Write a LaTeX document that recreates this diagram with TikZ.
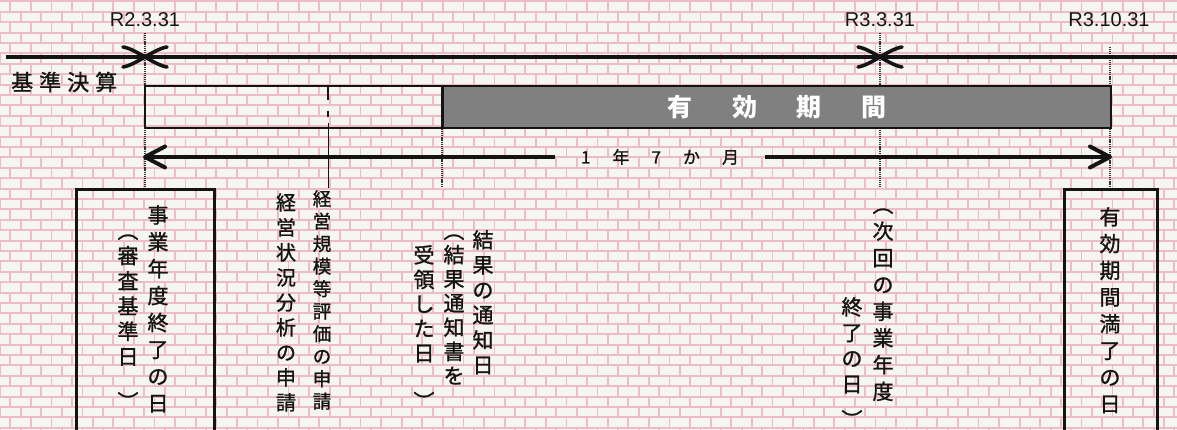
\documentclass[tikz,border=0pt]{standalone}
\usepackage{fontspec}
\setmainfont{Liberation Sans}
\newfontfamily\jp[FakeBold=1.2]{Noto Sans CJK JP}
\newfontfamily\jpb{Noto Sans CJK JP}
\usetikzlibrary{arrows.meta}
\definecolor{mortar}{RGB}{238,188,198}
\definecolor{brickc}{RGB}{245,246,241}
\definecolor{barfill}{RGB}{128,128,128}
\definecolor{ink}{RGB}{20,20,20}
\newcommand\vfs[2]{\jp\fontsize{#1pt}{#2pt}\selectfont}
\newcommand\lowp[1]{\raisebox{-#1pt}{︶}}
\begin{document}
\begin{tikzpicture}[x=1pt,y=-1pt,
  vcol/.style={align=center, inner sep=0pt, anchor=north, text=ink},
  dotline/.style={line width=1.3pt, dash pattern=on 1.2pt off 0.9pt, black!80},
  mainline/.style={line width=4pt, ink},
  xmark/.style={line width=3.6pt, ink, line cap=round},
  datelbl/.style={font=\fontsize{20pt}{20pt}\selectfont, text=ink, inner sep=0pt},
  frame/.style={draw=ink, line width=3pt, inner sep=0pt, anchor=north west},
  barbox/.style={draw=ink, line width=2pt, inner sep=0pt, minimum height=42pt},
  durline/.style={line width=4pt, ink, -{Straight Barb[length=20pt,width=21pt,round]}}
]
\useasboundingbox (0,0) rectangle (1177,430);
% brick background
\fill[brickc] (0,0) rectangle (1177,430);
\begin{scope}
\clip (0,0) rectangle (1177,430);
\draw[mortar, line width=2pt] \foreach \k in {0,...,41} { (0,{1.4+\k*10.4}) -- (1177,{1.4+\k*10.4}) };
\draw[mortar, line width=1.8pt] \foreach \r in {0,...,42} { \foreach \c in {0,...,58} { ({\c*20.6+mod(\r,2)*10.3},{-9+\r*10.4}) -- ++(0,10.4) } };
\end{scope}

% date labels
\node[datelbl] (d0) at (145,20) {R2.3.31};
\node[datelbl] (d1) at (880,20) {R3.3.31};
\node[datelbl] (d2) at (1109,20) {R3.10.31};

% vertical dotted guide lines
\coordinate (v0t) at (145,33);  \coordinate (v0b) at (145,187);
\coordinate (v1t) at (880,33);  \coordinate (v1b) at (880,187);
\coordinate (v2t) at (1110,47); \coordinate (v2b) at (1110,187);
\coordinate (v3t) at (442,129); \coordinate (v3b) at (442,187);
\draw[dotline] (v0t) -- (v0b);
\draw[dotline] (v1t) -- (v1b);
\draw[dotline] (v2t) -- (v2b);
\draw[dotline] (v3t) -- (v3b);

% main time line
\coordinate (mlL) at (6,57);
\coordinate (mlR) at (1180,57);
\draw[mainline] (mlL) -- (mlR);
\coordinate (x0) at (145,57);
\coordinate (x1) at (880,57);
\foreach \p in {x0,x1}{
  \draw[xmark] ([shift={(-22,-10)}]\p) .. controls ([shift={(-9,-8)}]\p) and ([shift={(9,8)}]\p) .. ([shift={(22,10)}]\p);
  \draw[xmark] ([shift={(-22,10)}]\p) .. controls ([shift={(-9,8)}]\p) and ([shift={(9,-8)}]\p) .. ([shift={(22,-10)}]\p);
}

% label kijun kessan
\node[font=\vfs{22}{22}, text=ink, anchor=west, inner sep=0pt] (kijun) at (11,82) {\makebox[106pt][s]{基\hfill 準\hfill 決\hfill 算}};

% bars
\node[barbox, minimum width=297pt] (pre) at (293.5,107) {};
\node[barbox, fill=barfill, minimum width=668pt, text=white, font=\jpb\fontsize{25pt}{25pt}\selectfont\bfseries] (valid) at (777,107) {\makebox[219pt][s]{有\hfill 効\hfill 期\hfill 間}};

% marker line for 経営規模等評価
\coordinate (m0) at (328,86);  \coordinate (m1) at (328,100);
\coordinate (m2) at (328,111); \coordinate (m3) at (328,117);
\coordinate (m4) at (328,123); \coordinate (m5) at (328,188);
\draw[line width=2pt, ink] (m0) -- (m1);
\draw[line width=2pt, ink] (m2) -- (m3);
\draw[line width=1pt, ink] (m4) -- (m5);

% duration arrow
\coordinate (aL) at (143,157);
\coordinate (aR) at (1112,157);
\node[font=\vfs{17}{17}, text=ink, minimum width=210pt, inner sep=0pt] (dur) at (660,157) {\makebox[158pt][s]{1\hfill 年\hfill 7\hfill か\hfill 月}};
\draw[durline] (dur.west) -- (aL);
\draw[durline] (dur.east) -- (aR);

% bottom frames
\node[frame, minimum width=138pt, minimum height=246pt] (lbox) at (75,188) {};
\node[frame, minimum width=93pt, minimum height=246pt] (rbox) at (1063,188) {};

% vertical texts
\node[vcol, font=\vfs{21}{26.9}] (c1) at (158,205) {\vphantom{日}事\\業\\年\\度\\終\\了\\の\\日};
\node[vcol, font=\vfs{21}{25.2}] (c2) at (128,222) {\vphantom{日}︵\\審\\査\\基\\準\\日\\\lowp{20}};
\node[vcol, font=\vfs{18.5}{22.5}] (c3) at (322,190) {\vphantom{日}経\\営\\規\\模\\等\\評\\価\\の\\申\\請};
\node[vcol, font=\vfs{20}{25}] (c4) at (286,193) {\vphantom{日}経\\営\\状\\況\\分\\析\\の\\申\\請};
\node[vcol, font=\vfs{21}{25}] (c5) at (483,230) {\vphantom{日}結\\果\\の\\通\\知\\日};
\node[vcol, font=\vfs{21}{24.2}] (c6) at (454,222) {\vphantom{日}︵\\結\\果\\通\\知\\書\\を};
\node[vcol, font=\vfs{21}{24.5}] (c7) at (424,245) {\vphantom{日}受\\領\\し\\た\\日\\\lowp{24}};
\node[vcol, font=\vfs{21}{26.7}] (c8) at (883,196) {\vphantom{日}︵\\次\\回\\の\\事\\業\\年\\度};
\node[vcol, font=\vfs{21}{25.7}] (c9) at (852,297) {\vphantom{日}終\\了\\の\\日\\\lowp{10}};
\node[vcol, font=\vfs{21}{26.7}] (c10) at (1110,207) {\vphantom{日}有\\効\\期\\間\\満\\了\\の\\日};
\end{tikzpicture}
\end{document}
